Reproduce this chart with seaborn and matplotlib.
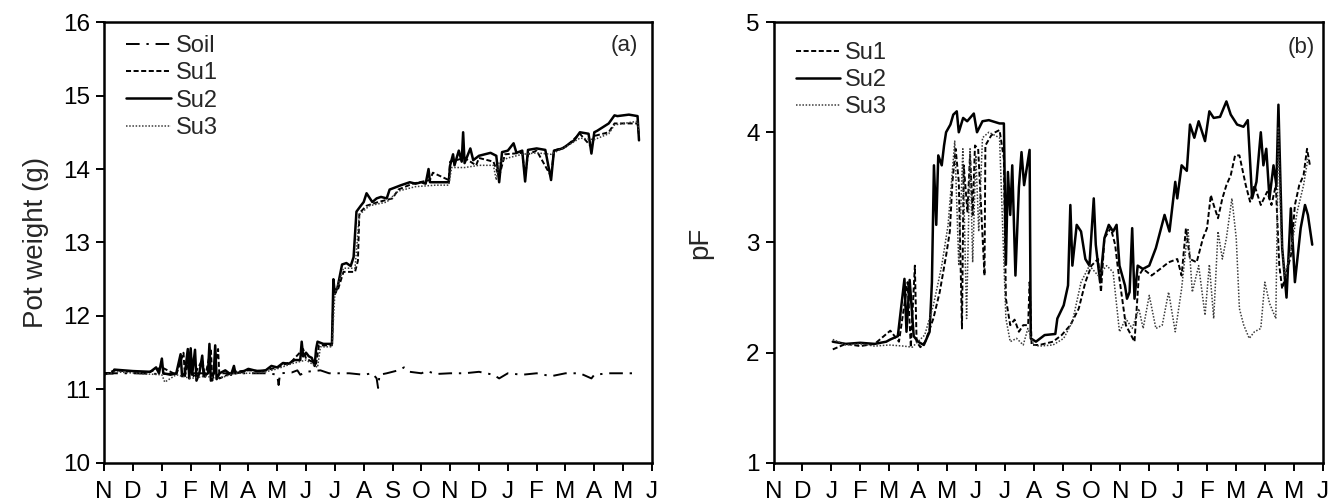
import matplotlib
matplotlib.use("Agg")
import matplotlib.pyplot as plt
import pandas as pd
import seaborn as sns

# month positions: 0 = 1 Nov, 19 = 1 Jun (19 months later)
month_labels = ["N", "D", "J", "F", "M", "A", "M", "J", "J", "A", "S", "O",
                "N", "D", "J", "F", "M", "A", "M", "J"]

# ---- panel (a): pot weight (g) ----
soil_x = [0, 1, 2, 3, 4, 5, 5.7, 6.0, 6.05, 6.1, 6.5, 6.7, 6.8, 7.0, 7.5, 7.8, 8.5,
          9.0, 9.3, 9.45, 9.5, 9.55, 9.8, 10.2, 10.4, 10.6, 11.0, 11.2, 11.5, 12.0,
          12.5, 13.0, 13.5, 13.7, 14.0, 14.5, 15.0, 15.5, 16.0, 16.5, 16.9, 17.0,
          17.5, 18.0, 18.4]
soil_y = [11.22, 11.22, 11.21, 11.22, 11.22, 11.22, 11.22, 11.2, 11.06, 11.22, 11.23,
          11.26, 11.2, 11.24, 11.26, 11.22, 11.22, 11.2, 11.22, 11.15, 11.02, 11.2,
          11.22, 11.26, 11.3, 11.24, 11.22, 11.25, 11.21, 11.22, 11.22, 11.24, 11.2,
          11.15, 11.22, 11.2, 11.22, 11.18, 11.22, 11.22, 11.15, 11.2, 11.22, 11.22,
          11.22]

su1a_x = [0, 0.35, 1.5, 2.0, 2.5, 2.75, 2.8, 3.0, 3.1, 3.4, 3.5, 3.7, 3.75, 3.95, 4.0,
          4.5, 5.0, 5.5, 6.0, 6.5, 6.9, 7.0, 7.35, 7.45, 7.9, 7.95, 8.1, 8.3, 8.7, 8.8,
          8.85, 9.1, 9.5, 10.0, 10.2, 10.7, 11.3, 11.4, 11.95, 12.0, 12.5, 12.9, 13.0,
          13.5, 13.7, 13.9, 14.5, 14.6, 14.7, 15.0, 15.5, 15.6, 16.0, 16.5, 16.9, 17.0,
          17.5, 17.7, 18.5, 18.55]
su1a_y = [11.2, 11.26, 11.23, 11.3, 11.2, 11.5, 11.18, 11.5, 11.18, 11.4, 11.17, 11.55,
          11.12, 11.55, 11.15, 11.24, 11.26, 11.25, 11.3, 11.38, 11.55, 11.42, 11.35,
          11.6, 11.6, 12.3, 12.35, 12.6, 12.6, 12.75, 13.4, 13.5, 13.55, 13.6, 13.72,
          13.8, 13.85, 13.95, 13.85, 14.1, 14.15, 14.05, 14.15, 14.1, 13.9, 14.2, 14.22,
          13.9, 14.2, 14.25, 13.9, 14.25, 14.3, 14.48, 14.3, 14.45, 14.5, 14.62, 14.62,
          14.45]

su2a_x = [0.0, 0.3, 0.35, 1.0, 1.6, 1.8, 1.9, 2.0, 2.05, 2.3, 2.5, 2.65, 2.7, 2.8, 2.9,
          2.95, 3.0, 3.05, 3.15, 3.2, 3.3, 3.4, 3.45, 3.6, 3.65, 3.7, 3.8, 3.85, 3.9,
          4.0, 4.2, 4.4, 4.5, 4.55, 4.8, 5.0, 5.3, 5.6, 5.8, 6.0, 6.2, 6.4, 6.6, 6.8,
          6.85, 6.9, 7.0, 7.1, 7.2, 7.3, 7.35, 7.4, 7.6, 7.9, 7.95, 8.0, 8.1, 8.25, 8.4,
          8.55, 8.65, 8.75, 8.9, 9.0, 9.1, 9.3, 9.45, 9.6, 9.8, 9.9, 10.1, 10.3, 10.6,
          10.8, 11.0, 11.15, 11.25, 11.3, 11.6, 11.95, 12.0, 12.1, 12.15, 12.3, 12.4,
          12.45, 12.5, 12.7, 12.8, 13.0, 13.2, 13.4, 13.6, 13.7, 13.8, 14.0, 14.2,
          14.3, 14.5, 14.6, 14.7, 15.0, 15.3, 15.5, 15.6, 15.9, 16.3, 16.5, 16.8, 16.9,
          17.0, 17.1, 17.5, 17.7, 17.8, 18.2, 18.5, 18.55]
su2a_y = [11.22, 11.22, 11.27, 11.25, 11.24, 11.3, 11.22, 11.42, 11.22, 11.2, 11.22,
          11.48, 11.18, 11.22, 11.55, 11.15, 11.56, 11.2, 11.54, 11.12, 11.22, 11.46,
          11.18, 11.22, 11.62, 11.12, 11.22, 11.6, 11.14, 11.22, 11.26, 11.2, 11.32,
          11.22, 11.24, 11.28, 11.25, 11.26, 11.32, 11.3, 11.36, 11.35, 11.4, 11.4,
          11.65, 11.45, 11.5, 11.45, 11.43, 11.32, 11.55, 11.65, 11.62, 11.62, 12.5,
          12.3, 12.4, 12.7, 12.72, 12.68, 12.8, 13.42, 13.5, 13.55, 13.67, 13.55, 13.6,
          13.62, 13.6, 13.72, 13.75, 13.78, 13.82, 13.8, 13.82, 13.8, 14.0, 13.82,
          13.82, 13.82, 14.05, 14.2, 14.05, 14.25, 14.1, 14.5, 14.08, 14.28, 14.12,
          14.18, 14.2, 14.22, 14.18, 13.82, 14.23, 14.25, 14.35, 14.22, 14.25, 13.83,
          14.26, 14.28, 14.26, 13.85, 14.25, 14.28, 14.39, 14.5, 14.48, 14.21, 14.5,
          14.52, 14.62, 14.73, 14.72, 14.74, 14.72, 14.39]

su3a_x = [0, 0.4, 1.5, 2.0, 2.1, 2.5, 3.0, 3.5, 4.0, 4.5, 5.0, 5.5, 6.0, 6.5, 7.0, 7.4,
          7.5, 7.9, 8.0, 8.3, 8.7, 8.85, 9.2, 9.8, 10.2, 10.8, 11.5, 11.95, 12.05,
          12.5, 13.0, 13.5, 13.6, 13.7, 14.0, 14.5, 15.0, 15.5, 16.0, 16.5, 17.0, 17.5,
          17.7, 18.5, 18.55]
su3a_y = [11.2, 11.24, 11.21, 11.2, 11.1, 11.2, 11.15, 11.18, 11.15, 11.22, 11.22,
          11.23, 11.28, 11.35, 11.4, 11.3, 11.58, 11.58, 12.3, 12.65, 12.65, 13.38,
          13.5, 13.55, 13.7, 13.76, 13.78, 13.78, 14.02, 14.02, 14.05, 14.05, 13.85,
          14.1, 14.15, 14.2, 14.22, 14.2, 14.3, 14.42, 14.4, 14.48, 14.6, 14.65, 14.5]

# ---- panel (b): pF ----
su1b_x = [2.05, 2.5, 3.0, 3.5, 4.04, 4.34, 4.64, 4.75, 4.89, 4.95, 5.08, 5.25, 5.53,
          5.75, 5.97, 6.1, 6.19, 6.3, 6.41, 6.52, 6.58, 6.71, 6.8, 6.89, 6.97, 7.08,
          7.3, 7.33, 7.53, 7.67, 7.82, 7.97, 8.04, 8.19, 8.34, 8.49, 8.64, 8.81, 8.86,
          8.93, 9.2, 9.67, 9.97, 10.27, 10.56, 10.79, 11.0, 11.23, 11.33, 11.45, 11.67,
          11.82, 11.9, 12.19, 12.49, 12.64, 12.79, 13.08, 13.38, 13.67, 13.97, 14.12,
          14.27, 14.41, 14.64, 14.86, 15.0, 15.13, 15.23, 15.38, 15.53, 15.67, 15.82,
          15.97, 16.12, 16.34, 16.49, 16.64, 16.86, 17.08, 17.23, 17.38, 17.5, 17.6,
          17.75, 17.9, 18.04, 18.19, 18.34, 18.46, 18.56]
su1b_y = [2.03, 2.08, 2.06, 2.08, 2.2, 2.1, 2.64, 2.05, 2.79, 2.1, 2.05, 2.1, 2.31,
          2.55, 2.88, 3.1, 3.55, 3.85, 3.55, 2.22, 3.7, 3.28, 3.8, 3.25, 3.88, 3.85,
          2.7, 3.88, 3.97, 4.0, 4.02, 3.76, 2.49, 2.25, 2.3, 2.19, 2.25, 2.25, 2.64,
          2.07, 2.07, 2.1, 2.16, 2.25, 2.4, 2.64, 2.79, 2.85, 2.55, 3.04, 3.13, 2.98,
          2.8, 2.25, 2.1, 2.7, 2.76, 2.7, 2.76, 2.82, 2.85, 2.7, 3.13, 2.85, 2.82, 3.04,
          3.13, 3.43, 3.34, 3.22, 3.4, 3.52, 3.61, 3.79, 3.79, 3.52, 3.37, 3.52, 3.34,
          3.46, 3.34, 3.52, 2.79, 2.58, 2.73, 2.88, 3.34, 3.52, 3.61, 3.85, 3.7]

su2b_x = [2.05, 2.5, 3.0, 3.5, 3.9, 4.04, 4.3, 4.53, 4.6, 4.71, 4.85, 5.0, 5.2, 5.4,
          5.48, 5.55, 5.63, 5.7, 5.82, 5.9, 5.97, 6.12, 6.22, 6.34, 6.41, 6.56, 6.7,
          6.93, 7.04, 7.23, 7.45, 7.82, 7.97, 8.04, 8.11, 8.19, 8.26, 8.37, 8.49, 8.58,
          8.67, 8.86, 8.9, 9.08, 9.38, 9.75, 9.82, 10.04, 10.19, 10.27, 10.34, 10.49,
          10.64, 10.79, 10.93, 11.08, 11.15, 11.3, 11.45, 11.6, 11.75, 11.87, 11.97,
          12.16, 12.23, 12.32, 12.41, 12.49, 12.6, 12.78, 13.0, 13.23, 13.53, 13.7,
          13.9, 13.97, 14.12, 14.3, 14.41, 14.56, 14.71, 14.93, 15.08, 15.23, 15.45,
          15.67, 15.82, 16.04, 16.26, 16.41, 16.56, 16.71, 16.86, 16.95, 17.05, 17.16,
          17.3, 17.4, 17.47, 17.6, 17.75, 17.9, 18.04, 18.24, 18.39, 18.49, 18.64]
su2b_y = [2.1, 2.08, 2.09, 2.08, 2.1, 2.12, 2.15, 2.67, 2.19, 2.66, 2.15, 2.1, 2.07,
          2.19, 2.64, 3.7, 3.16, 3.79, 3.7, 3.88, 4.0, 4.07, 4.16, 4.19, 4.0, 4.13,
          4.1, 4.17, 4.0, 4.1, 4.11, 4.08, 4.08, 2.8, 3.64, 3.25, 3.7, 2.7, 3.5, 3.82,
          3.52, 3.84, 2.13, 2.1, 2.16, 2.17, 2.31, 2.43, 2.61, 3.34, 2.79, 3.16, 3.1,
          2.85, 2.79, 3.4, 2.98, 2.64, 3.04, 3.16, 3.1, 3.16, 2.79, 2.61, 2.49, 2.55,
          3.13, 2.49, 2.79, 2.76, 2.79, 2.95, 3.25, 3.1, 3.55, 3.4, 3.7, 3.65, 4.07,
          3.95, 4.1, 3.92, 4.19, 4.13, 4.14, 4.28, 4.16, 4.07, 4.05, 4.11, 3.4, 3.55,
          4.0, 3.7, 3.85, 3.4, 3.7, 3.52, 4.25, 2.95, 2.5, 3.31, 2.64, 3.13, 3.34,
          3.25, 2.98]

su3b_x = [2.05, 2.5, 3.0, 3.5, 4.0, 4.5, 4.8, 5.23, 5.53, 5.82, 6.04, 6.27, 6.41, 6.55,
          6.68, 6.8, 6.89, 7.0, 7.1, 7.23, 7.45, 7.82, 8.04, 8.19, 8.41, 8.64, 8.8, 9.0,
          9.2, 9.67, 10.04, 10.34, 10.64, 10.93, 11.23, 11.53, 11.75, 11.97, 12.19,
          12.41, 12.64, 12.79, 13.0, 13.23, 13.45, 13.67, 13.9, 14.12, 14.34, 14.49,
          14.71, 14.93, 15.08, 15.23, 15.38, 15.53, 15.67, 15.86, 16.01, 16.12, 16.27,
          16.46, 16.64, 16.86, 17.0, 17.16, 17.38, 17.47, 17.56, 17.68, 17.9, 18.12,
          18.34, 18.49]
su3b_y = [2.12, 2.07, 2.08, 2.06, 2.07, 2.06, 2.05, 2.16, 2.43, 2.79, 3.16, 3.92, 2.79,
          3.85, 2.31, 3.85, 2.82, 3.79, 3.1, 3.95, 4.0, 3.95, 2.31, 2.1, 2.13, 2.07,
          2.22, 2.07, 2.06, 2.07, 2.13, 2.28, 2.64, 2.79, 2.7, 2.79, 2.73, 2.19, 2.31,
          2.22, 2.4, 2.22, 2.52, 2.22, 2.25, 2.55, 2.19, 2.58, 3.13, 2.55, 2.79, 2.34,
          2.8, 2.31, 3.1, 2.85, 3.04, 3.4, 3.04, 2.4, 2.25, 2.13, 2.19, 2.22, 2.64,
          2.45, 2.31, 4.05, 3.1, 2.7, 2.92, 3.28, 3.52, 3.76]


def series_frame(pairs):
    frames = []
    for name, xs, ys in pairs:
        frames.append(pd.DataFrame({"month": xs, "value": ys, "series": name}))
    return pd.concat(frames, ignore_index=True)


df_a = series_frame([("Soil", soil_x, soil_y), ("Su1", su1a_x, su1a_y),
                     ("Su2", su2a_x, su2a_y), ("Su3", su3a_x, su3a_y)])
df_b = series_frame([("Su1", su1b_x, su1b_y), ("Su2", su2b_x, su2b_y),
                     ("Su3", su3b_x, su3b_y)])

sns.set_style("ticks")
plt.rcParams["font.family"] = ["Liberation Sans", "DejaVu Sans"]

styles = {
    "Soil": dict(color="black", lw=1.4, ls=(0, (7, 3.5, 1.2, 3.5))),
    "Su1": dict(color="black", lw=1.4, ls=(0, (2.6, 1.3))),
    "Su2": dict(color="black", lw=1.8, ls="-"),
    "Su3": dict(color="#3a3a3a", lw=1.1, ls=(0, (1, 1.1))),
}

fig = plt.figure(figsize=(13.36, 5.01), dpi=100)
ax_a = fig.add_axes([0.078, 0.076, 0.410, 0.880])
ax_b = fig.add_axes([0.579, 0.076, 0.411, 0.880])


def draw_panel(ax, df, order, legend_top):
    for name in order:
        sub = df[df["series"] == name]
        st = styles[name]
        sns.lineplot(data=sub, x="month", y="value", ax=ax, sort=False,
                     estimator=None, color=st["color"], linewidth=st["lw"],
                     linestyle=st["ls"], label=name)
    ax.set_xlim(0, 19)
    ax.set_xticks(range(20))
    ax.set_xticklabels(month_labels)
    ax.set_xlabel("")
    for sp in ax.spines.values():
        sp.set_visible(True)
        sp.set_linewidth(1.8)
        sp.set_color("black")
    ax.tick_params(direction="out", length=6, width=1.4, labelsize=17.5,
                   colors="black", pad=4)
    ax.tick_params(axis="x", pad=7)
    ax.legend(loc="upper left", frameon=False, fontsize=17, handlelength=1.9,
              handletextpad=0.2, labelspacing=0.22, borderaxespad=0.0,
              borderpad=0.0, bbox_to_anchor=(0.04, legend_top))


draw_panel(ax_a, df_a, ["Soil", "Su1", "Su2", "Su3"], 0.97)
ax_a.set_ylim(10, 16)
ax_a.set_yticks(range(10, 17))
ax_a.set_ylabel("Pot weight (g)", fontsize=20, labelpad=10)
ax_a.text(0.975, 0.97, "(a)", transform=ax_a.transAxes, ha="right", va="top",
          fontsize=16)

draw_panel(ax_b, df_b, ["Su1", "Su2", "Su3"], 0.955)
ax_b.set_ylim(1, 5)
ax_b.set_yticks(range(1, 6))
ax_b.set_ylabel("pF", fontsize=20, labelpad=24)
ax_b.text(0.985, 0.965, "(b)", transform=ax_b.transAxes, ha="right", va="top",
          fontsize=16)

fig.savefig("out.png", dpi=100)
